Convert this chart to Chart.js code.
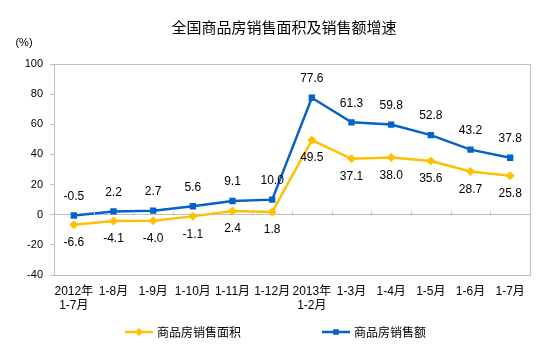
<!DOCTYPE html>
<html>
<head>
<meta charset="utf-8">
<script src="https://cdn.jsdelivr.net/npm/chart.js@4"></script>
<style>
  html, body { margin: 0; padding: 0; background: #fff; }
  #wrap { width: 554px; height: 353px; }
</style>
</head>
<body>
<div id="wrap"><canvas id="chart-1" width="554" height="353"></canvas></div>
<script>
// Categories and series values
const categories = [["2012年", "1-7月"], "1-8月", "1-9月", "1-10月", "1-11月", "1-12月",
    ["2013年", "1-2月"], "1-3月", "1-4月", "1-5月", "1-6月", "1-7月"];
const salesArea = [-6.6, -4.1, -4.0, -1.1, 2.4, 1.8, 49.5, 37.1, 38.0, 35.6, 28.7, 25.8];
const salesAmount = [-0.5, 2.2, 2.7, 5.6, 9.1, 10.0, 77.6, 61.3, 59.8, 52.8, 43.2, 37.8];
const yTicks = [-40, -20, 0, 20, 40, 60, 80, 100];

const BLUE = "#0563C8";
const YELLOW = "#FFC000";
const FONT = "'Liberation Sans', Arial, 'Noto Sans CJK SC', sans-serif";
const CJK = "'Noto Sans CJK SC', sans-serif";

// Draws the box, zero-line ticks, data labels, title and legend
const decorations = {
    id: "decorations",
    afterDatasetsDraw(chart) {
        const ctx = chart.ctx;
        const area = chart.chartArea;
        const y = chart.scales.y;
        ctx.save();

        // plot border
        ctx.strokeStyle = "#BFBFBF";
        ctx.lineWidth = 1;
        ctx.strokeRect(Math.round(area.left) + 0.5, Math.round(area.top) + 0.5,
            Math.round(area.right - area.left), Math.round(area.bottom - area.top));

        // category tick marks on the zero line
        const zero = Math.round(y.getPixelForValue(0)) + 0.5;
        const step = (area.right - area.left) / categories.length;
        ctx.beginPath();
        for (let i = 1; i < categories.length; i++) {
            const px = Math.round(area.left + step * i) + 0.5;
            ctx.moveTo(px, zero);
            ctx.lineTo(px, zero - 4);
        }
        ctx.stroke();

        // data labels
        ctx.fillStyle = "#000";
        ctx.font = "12px " + FONT;
        ctx.textAlign = "center";
        ctx.textBaseline = "middle";
        chart.getDatasetMeta(1).data.forEach((pt, i) => {
            ctx.fillText(salesAmount[i].toFixed(1), pt.x, pt.y - 19);
        });
        chart.getDatasetMeta(0).data.forEach((pt, i) => {
            ctx.fillText(salesArea[i].toFixed(1), pt.x, pt.y + 18);
        });

        // title and unit
        ctx.font = "15px " + CJK;
        ctx.fillText("全国商品房销售面积及销售额增速", 284, 27);
        ctx.font = "11px " + FONT;
        ctx.fillText("(%)", 24, 43);

        // legend
        const items = [
            { label: "商品房销售面积", color: YELLOW, style: "rectRot", x: 125 },
            { label: "商品房销售额", color: BLUE, style: "rect", x: 322 },
        ];
        items.forEach(item => {
            ctx.strokeStyle = item.color;
            ctx.lineWidth = 2.5;
            ctx.beginPath();
            ctx.moveTo(item.x, 332);
            ctx.lineTo(item.x + 28, 332);
            ctx.stroke();
            ctx.fillStyle = item.color;
            Chart.helpers.drawPoint(ctx, { pointStyle: item.style, radius: 4, rotation: 0, borderWidth: 0 },
                item.x + 14, 332);
            ctx.fillStyle = "#000";
            ctx.font = "12px " + CJK;
            ctx.textAlign = "left";
            ctx.fillText(item.label, item.x + 32, 332);
        });
        ctx.restore();
    }
};

const ctx1 = document.getElementById("chart-1").getContext("2d");
const lineChart = new Chart(ctx1, {
    type: "line",
    data: {
        labels: categories,
        datasets: [{
            label: "商品房销售面积",
            data: salesArea,
            borderColor: YELLOW,
            backgroundColor: YELLOW,
            borderWidth: 2.5,
            pointStyle: "rectRot",
            pointRadius: 4.5,
            pointBorderWidth: 0,
            tension: 0,
        }, {
            label: "商品房销售额",
            data: salesAmount,
            borderColor: BLUE,
            backgroundColor: BLUE,
            borderWidth: 2.5,
            pointStyle: "rect",
            pointRadius: 4.5,
            pointBorderWidth: 0,
            tension: 0,
        }],
    },
    options: {
        responsive: false,
        animation: false,
        layout: { padding: { top: 64, right: 24, left: 0, bottom: 0 } },
        plugins: { legend: { display: false }, title: { display: false }, tooltip: { enabled: false } },
        scales: {
            x: {
                offset: true,
                grid: { display: false, drawTicks: false },
                border: { display: false },
                ticks: { color: "#000", font: { size: 12, family: FONT }, padding: 9, maxRotation: 0, autoSkip: false },
                afterFit(scale) { scale.height = 78; },
            },
            y: {
                min: -40,
                max: 100,
                afterBuildTicks(scale) { scale.ticks = yTicks.map(v => ({ value: v })); },
                grid: {
                    color: c => (c.tick && c.tick.value === 0 ? "#BFBFBF" : "rgba(0,0,0,0)"),
                    tickColor: "#BFBFBF",
                    tickLength: 4,
                    drawOnChartArea: true,
                },
                border: { display: false },
                ticks: { color: "#000", font: { size: 11, family: FONT }, padding: 7 },
                afterFit(scale) { scale.width = 54; },
            },
        },
    },
    plugins: [decorations],
});
</script>
</body>
</html>
